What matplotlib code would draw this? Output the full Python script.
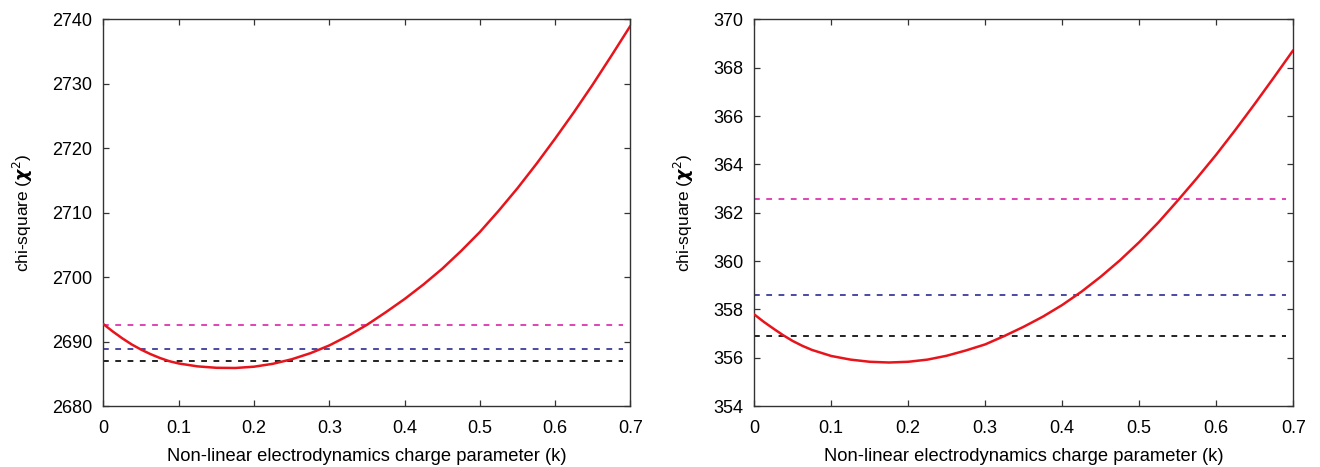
import matplotlib
matplotlib.use("Agg")
import matplotlib.pyplot as plt

plt.rcParams["font.family"] = ["Liberation Sans", "DejaVu Sans"]
plt.rcParams["mathtext.fontset"] = "dejavusans"

# lewy panel: chi-kwadrat w funkcji parametru k
k_left = [0, 0.0125, 0.025, 0.0375, 0.05, 0.0625, 0.075, 0.0875, 0.1, 0.125,
          0.15, 0.175, 0.2, 0.225, 0.25, 0.275, 0.3, 0.325, 0.35, 0.375, 0.4,
          0.425, 0.45, 0.475, 0.5, 0.525, 0.55, 0.575, 0.6, 0.625, 0.65,
          0.675, 0.7]
chi_left = [2692.7, 2691.55, 2690.5, 2689.55, 2688.75, 2688.05, 2687.45,
            2686.95, 2686.6, 2686.15, 2685.93, 2685.9, 2686.1, 2686.55,
            2687.25, 2688.2, 2689.4, 2690.9, 2692.6, 2694.55, 2696.6,
            2698.85, 2701.3, 2704.05, 2707.0, 2710.3, 2713.8, 2717.55,
            2721.5, 2725.6, 2729.9, 2734.4, 2739.0]
levels_left = [2692.6, 2688.8, 2686.95]

# prawy panel
k_right = [0, 0.0125, 0.025, 0.0375, 0.05, 0.0625, 0.075, 0.1, 0.125, 0.15,
           0.175, 0.2, 0.225, 0.25, 0.275, 0.3, 0.325, 0.35, 0.375, 0.4,
           0.425, 0.45, 0.475, 0.5, 0.525, 0.55, 0.575, 0.6, 0.625, 0.65,
           0.675, 0.7]
chi_right = [357.79, 357.48, 357.2, 356.93, 356.69, 356.49, 356.32, 356.07,
             355.92, 355.83, 355.8, 355.83, 355.92, 356.08, 356.3, 356.55,
             356.9, 357.28, 357.7, 358.18, 358.73, 359.35, 360.03, 360.78,
             361.6, 362.5, 363.43, 364.4, 365.43, 366.5, 367.6, 368.72]
levels_right = [362.55, 358.6, 356.89]

x_ticks = [0, 0.1, 0.2, 0.3, 0.4, 0.5, 0.6, 0.7]
x_ticklabels = ["0", "0.1", "0.2", "0.3", "0.4", "0.5", "0.6", "0.7"]
y_ticks_left = [2680, 2690, 2700, 2710, 2720, 2730, 2740]
y_ticks_right = [354, 356, 358, 360, 362, 364, 366, 368, 370]

level_colors = ["#dc35b0", "#3c3c9c", "#111111"]

fig = plt.figure(figsize=(13.2, 4.67), dpi=100)
ax1 = fig.add_axes([0.0784, 0.1306, 0.3992, 0.828])
ax2 = fig.add_axes([0.5714, 0.1306, 0.4083, 0.828])


def draw_panel(ax, k, chi, levels, yticks):
    for lvl, col in zip(levels, level_colors):
        ax.hlines(lvl, 0, 0.69, colors=col, linestyles=(0, (3.2, 3.6)),
                  linewidth=1.3, zorder=2)
    ax.plot(k, chi, color="#e8141c", linewidth=1.8, zorder=3,
            solid_joinstyle="round", solid_capstyle="round")
    ax.set_xlim(0, 0.7)
    ax.set_ylim(yticks[0], yticks[-1])
    ax.set_xticks(x_ticks)
    ax.set_xticklabels(x_ticklabels)
    ax.set_yticks(yticks)
    ax.tick_params(direction="in", top=True, right=True, length=4,
                   width=0.9, color="#333333", labelsize=13, pad=8)
    ax.tick_params(axis="x", pad=10)
    for sp in ax.spines.values():
        sp.set_color("#333333")
        sp.set_linewidth(1.0)
    ax.set_xlabel("Non-linear electrodynamics charge parameter (k)",
                  fontsize=13.2, labelpad=8)
    ax.set_ylabel(r"chi-square ($\boldsymbol{\chi}^{2}$)", fontsize=12.5,
                  labelpad=12)


draw_panel(ax1, k_left, chi_left, levels_left, y_ticks_left)
draw_panel(ax2, k_right, chi_right, levels_right, y_ticks_right)

fig.savefig("out.png", dpi=100)
